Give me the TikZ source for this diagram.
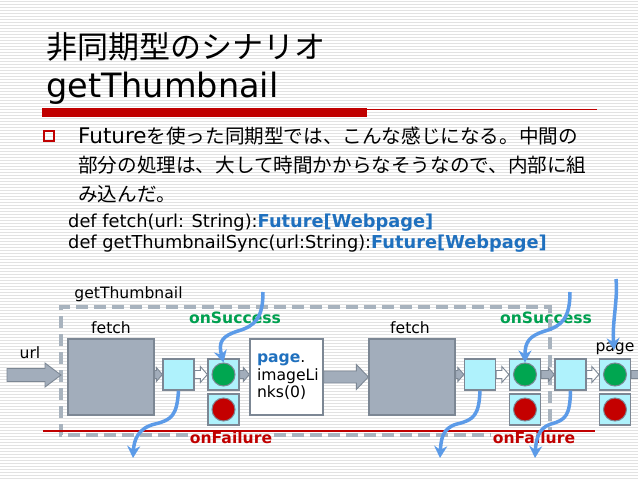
\documentclass[tikz,border=0pt]{standalone}
\usepackage{fontspec}
\setmainfont{DejaVu Sans}
\newfontfamily\jp{Noto Sans CJK JP}
\usetikzlibrary{arrows.meta,calc}
\definecolor{stripecol}{RGB}{226,226,226}
\definecolor{titlered}{RGB}{192,0,0}
\definecolor{codeblue}{RGB}{31,112,190}
\definecolor{boxgrey}{RGB}{124,135,148}
\definecolor{fetchgrey}{RGB}{162,173,187}
\definecolor{cyanfill}{RGB}{175,242,252}
\definecolor{lampgreen}{RGB}{0,166,80}
\definecolor{lampred}{RGB}{196,0,0}
\definecolor{flowblue}{RGB}{92,155,232}
\definecolor{dashgrey}{RGB}{168,179,190}
\definecolor{succgreen}{RGB}{0,160,80}
\definecolor{failred}{RGB}{192,0,0}
\newcommand\blkarrow[6]{\path[#6] let \p1=(#1), \p2=(#2) in
  (\x1,\y2+#3pt) -- (\x2-#5pt,\y2+#3pt) -- (\x2-#5pt,\y2+#4pt) -- (\x2,\y2)
  -- (\x2-#5pt,\y2-#4pt) -- (\x2-#5pt,\y2-#3pt) -- (\x1,\y2-#3pt) -- cycle;}
\begin{document}
\begin{tikzpicture}[x=1pt,y=-1pt,
  box/.style={draw=boxgrey, line width=1.3pt},
  fetchbox/.style={box, fill=fetchgrey, minimum width=86pt, minimum height=76pt, inner sep=0pt},
  cyanbox/.style={box, fill=cyanfill, minimum size=31pt, inner sep=0pt},
  greenlamp/.style={circle, draw=boxgrey, line width=1pt, fill=lampgreen, minimum size=23pt, inner sep=0pt},
  redlamp/.style={circle, draw=boxgrey, line width=1pt, fill=lampred, minimum size=23pt, inner sep=0pt},
  lbl/.style={inner sep=1.5pt, font=\fontsize{15.6}{18}\selectfont},
  succlbl/.style={lbl, text=succgreen, font=\bfseries\fontsize{15.6}{18}\selectfont},
  faillbl/.style={lbl, text=failred, font=\bfseries\fontsize{15.6}{18}\selectfont},
  bigarr/.style={fill=fetchgrey, draw=boxgrey, line width=0.9pt},
  hollowarr/.style={fill=white, draw=boxgrey, line width=0.9pt},
  flow/.style={draw=flowblue, line width=3.5pt, -{Stealth[length=12pt,width=13pt]}},
  dashedbox/.style={draw=dashgrey, line width=4pt, dash pattern=on 12pt off 6pt},
  body/.style={anchor=base west, inner sep=0pt, font=\jp\fontsize{19.6}{20}\selectfont},
  code/.style={anchor=base west, inner sep=0pt, font=\fontsize{17.8}{18}\selectfont}]
\useasboundingbox (0,0) rectangle (638,479);
\fill[white] (0,0) rectangle (638,479);
\foreach \k in {0,...,159} \draw[stripecol, line width=0.9pt] (0,3*\k+1.5) -- (638,3*\k+1.5);

% title
\node[anchor=base west, inner sep=0pt, font=\jp\fontsize{31}{31}\selectfont] (title1) at (46,58) {非同期型のシナリオ};
\node[anchor=base west, inner sep=0pt, font=\fontsize{33.5}{33.5}\selectfont] (title2) at (46,97) {getThumbnail};
\fill[titlered] (42,108) rectangle (367,117);
\draw[titlered, line width=1pt] (367,109.5) -- (597,109.5);

% bullet and body
\draw[titlered, line width=1.5pt] (44,131) rectangle (54,141);
\node[body] (b1) at (78,143) {{\rmfamily\fontsize{21.5}{21.5}\selectfont Future}を使った同期型では、こんな感じになる。中間の};
\node[body] (b2) at (78,172) {部分の処理は、大して時間かからなそうなので、内部に組};
\node[body] (b3) at (78,201) {み込んだ。};
\node[code] (code1) at (68,227) {def fetch(url: String):\textbf{\color{codeblue}Future[Webpage]}};
\node[code] (code2) at (68,248) {def getThumbnailSync(url:String):\textbf{\color{codeblue}Future[Webpage]}};

% labels
\node[lbl] (gtlbl) at (128.5,294) {getThumbnail};
\node[lbl] (fetchlbl1) at (111,328) {fetch};
\node[lbl] (fetchlbl2) at (410,328) {fetch};
\node[lbl] (urllbl) at (30,353) {url};
\node[lbl] (pagelbl) at (615,349) {page};
\node[succlbl] (succ1) at (235,318) {onSuccess};
\node[succlbl] (succ2) at (546,318) {onSuccess};
\node[faillbl] (fail1) at (231,438) {onFailure};
\node[faillbl] (fail2) at (534,438) {onFailure};

% dashed getThumbnail frame
\coordinate (dtl) at (61,307);
\coordinate (dtr) at (550,307);
\coordinate (dbl) at (61,435);
\draw[dashedbox] (fail1.west |- dbl) -- (dbl) -- (dtl) -- (dtr) -- (dtr |- fail2.north);
\draw[dashedbox] (fail1.east |- dbl) -- (fail2.west |- dbl);

% red line
\coordinate (rl1) at (43,431);
\coordinate (rl2) at (595,431);
\draw[failred, line width=1.2pt] (rl1) -- (rl2);

% boxes
\node[fetchbox] (fetch1) at (111,377) {};
\node[cyanbox] (cyan1) at (178.5,374.5) {};
\node[cyanbox] (gbox1) at (223.5,374.5) {};
\node[cyanbox] (rbox1) at (223.5,409.5) {};
\node[greenlamp] (gl1) at (gbox1) {};
\node[redlamp] (rl1lamp) at (rbox1) {};
\node[box, fill=white, minimum width=73pt, minimum height=76pt, text width=59pt, inner xsep=7pt, inner ysep=0pt, align=left,
      font=\fontsize{15.6}{17.5}\selectfont] (pagebox) at (286.5,377)
      {\textbf{\color{codeblue}page}.\\imageLi\\nks(0)};
\node[fetchbox] (fetch2) at (412,377) {};
\node[cyanbox] (cyan2) at (480,374.5) {};
\node[cyanbox] (gbox2) at (525,374.5) {};
\node[cyanbox] (rbox2) at (525,409.5) {};
\node[greenlamp] (gl2) at (gbox2) {};
\node[redlamp] (rl2lamp) at (rbox2) {};
\node[cyanbox] (cyan3) at (570.5,374.5) {};
\node[cyanbox] (gbox3) at (615,374.5) {};
\node[cyanbox] (rbox3) at (615,409.5) {};
\node[greenlamp] (gl3) at (gbox3) {};
\node[redlamp] (rl3lamp) at (rbox3) {};

% block arrows
\coordinate (urltail) at (7,375);
\coordinate (urltip) at (61,375);
\coordinate (outtip) at (645,374.5);
\blkarrow{urltail}{urltip}{6.5}{12}{16}{bigarr}
\blkarrow{fetch1.east}{cyan1.west}{4}{7}{6}{bigarr}
\blkarrow{cyan1.east}{gbox1.west}{4}{8}{7}{hollowarr}
\blkarrow{gbox1.east}{pagebox.west |- gbox1.east}{4}{7}{6}{bigarr}
\blkarrow{pagebox.east}{fetch2.west}{6}{12.5}{12}{bigarr}
\blkarrow{fetch2.east}{cyan2.west}{4}{7}{6}{bigarr}
\blkarrow{cyan2.east}{gbox2.west}{4}{8}{7}{hollowarr}
\blkarrow{gbox2.east}{cyan3.west}{4}{7}{6}{bigarr}
\blkarrow{cyan3.east}{gbox3.west}{4}{8}{7}{hollowarr}
\blkarrow{gbox3.east}{outtip}{4}{7}{6}{bigarr}

% flows
\coordinate (s1) at (263,292);
\coordinate (s2) at (570,292);
\coordinate (s3) at (616,279);
\coordinate (s3end) at (614,350);
\coordinate (f1end) at (133,458);
\coordinate (f2end) at (440,458);
\coordinate (f3end) at (535,458);
\draw[flow] (s1) .. controls (263,318) and (255,326) .. (238,331) .. controls (222,336) and (218,342) .. (gl1.north);
\draw[flow] (s2) .. controls (570,318) and (562,326) .. (545,331) .. controls (529,336) and (525,342) .. (gl2.north);
\draw[flow] (s3) .. controls (618,300) and (612,322) .. (s3end);
\draw[flow] (cyan1.south) .. controls (177,415) and (172,420) .. (155,424) .. controls (138,428) and (134,440) .. (f1end);
\draw[flow] (cyan2.south) .. controls (479,415) and (474,420) .. (457,424) .. controls (442,428) and (441,440) .. (f2end);
\draw[flow] (cyan3.south) .. controls (570,415) and (566,420) .. (551,424) .. controls (538,428) and (536,440) .. (f3end);
\end{tikzpicture}
\end{document}
